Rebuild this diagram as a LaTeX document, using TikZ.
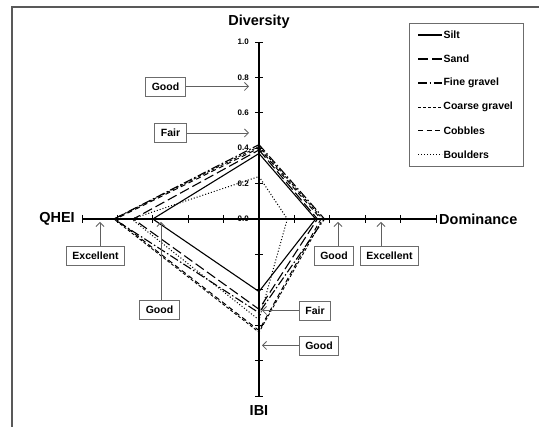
\documentclass[tikz,border=0pt]{standalone}
\usepackage{fontspec}
\setmainfont{Liberation Sans}
\usepackage{tikz}
\usetikzlibrary{arrows.meta}

\begin{document}
\begin{tikzpicture}[x=1pt,y=-1pt,
        axis/.style={line width=1.2pt, black},
        tickmark/.style={line width=0.9pt, black},
        axistitle/.style={font=\bfseries\fontsize{14.5}{16}\selectfont, black, inner sep=0pt},
        ticklbl/.style={font=\bfseries\fontsize{8}{9}\selectfont, black, inner sep=0pt, anchor=east},
        annot/.style={draw=gray!85!black, line width=0.8pt, fill=white, font=\bfseries\fontsize{10.5}{12}\selectfont, minimum height=19pt, inner xsep=6pt, inner ysep=0pt},
        pointer/.style={draw=gray!75!black, line width=0.8pt, -{Straight Barb[length=4pt,width=8pt]}},
        legtxt/.style={font=\bfseries\fontsize{10.5}{12}\selectfont, black, inner sep=1pt, anchor=west},
        silt/.style={line width=1.1pt},
        sand/.style={line width=1.1pt, dash pattern=on 10pt off 4pt},
        finegravel/.style={line width=1.1pt, dash pattern=on 9pt off 2.5pt on 1.5pt off 2.5pt},
        coarsegravel/.style={line width=0.9pt, dash pattern=on 3pt off 2pt},
        cobbles/.style={line width=1pt, dash pattern=on 5pt off 3.5pt},
        boulders/.style={line width=1pt, dash pattern=on 1pt off 2pt}]
        \useasboundingbox (0,0) rectangle (539,427);

        % frame of the figure
        \draw[gray!70!black, line width=1.2pt] (12,427) -- (12,7) -- (539,7);

        % axes
        \coordinate (O) at (259,219);
        \coordinate (dtop) at (259,42);
        \coordinate (ibot) at (259,396);
        \coordinate (qleft) at (82,219);
        \coordinate (dright) at (436,219);
        \draw[axis] (dtop) -- (ibot);
        \draw[axis] (qleft) -- (dright);
        \foreach \k in {1,...,5} {
            \draw[tickmark] (255,{219-35.4*\k}) -- ++(8,0);
            \draw[tickmark] (255,{219+35.4*\k}) -- ++(8,0);
            \draw[tickmark] ({259-35.4*\k},215) -- ++(0,8);
            \draw[tickmark] ({259+35.4*\k},215) -- ++(0,8);
        }
        \foreach \v/\k in {0.0/0, 0.2/1, 0.4/2, 0.6/3, 0.8/4, 1.0/5}
            \node[ticklbl] at (249,{219-35.4*\k}) {\v};

        \node[axistitle] (tdiv) at (259,22) {Diversity};
        \node[axistitle] (tqhei) at (57,219) {QHEI};
        \node[axistitle, anchor=west] (tdom) at (439,219) {Dominance};
        \node[axistitle] (tibi) at (259,411) {IBI};

        % substrate polygons
        \begin{scope}[shift={(259,219)}, x=177pt, y=177pt]
            \draw[silt] (0,0.37) -- (0.32,0) -- (0,-0.41) -- (-0.60,0) -- cycle;
            \draw[sand] (0,0.39) -- (0.33,0) -- (0,-0.51) -- (-0.71,0) -- cycle;
            \draw[finegravel] (0,0.42) -- (0.37,0) -- (0,-0.53) -- (-0.82,0) -- cycle;
            \draw[coarsegravel] (0,0.41) -- (0.36,0) -- (0,-0.64) -- (-0.82,0) -- cycle;
            \draw[cobbles] (0,0.40) -- (0.35,0) -- (0,-0.63) -- (-0.81,0) -- cycle;
            \draw[boulders] (0,0.24) -- (0.16,0) -- (0,-0.57) -- (-0.72,0) -- cycle;
        \end{scope}

        % class boundaries
        \node[annot] (dgood) at (165.5,86.5) {Good};
        \node[annot] (dfair) at (170.5,133) {Fair};
        \node[annot] (qexc) at (95.5,255.5) {Excellent};
        \node[annot] (qgood) at (159.5,310) {Good};
        \node[annot] (mgood) at (334,255.5) {Good};
        \node[annot] (mexc) at (389.5,255.5) {Excellent};
        \node[annot] (ifair) at (315,310.5) {Fair};
        \node[annot] (igood) at (319,345.5) {Good};

        \coordinate (dgoodpt) at (249,86.5);
        \coordinate (dfairpt) at (249,133);
        \coordinate (qexcpt) at (100,222);
        \coordinate (qgoodpt) at (161,222);
        \coordinate (mgoodpt) at (338,222);
        \coordinate (mexcpt) at (381,222);
        \coordinate (ifairpt) at (262,310.5);
        \coordinate (igoodpt) at (262,345.5);

        \draw[pointer] (dgood.east) -- (dgoodpt);
        \draw[pointer] (dfair.east) -- (dfairpt);
        \draw[pointer] (qexc.north -| qexcpt) -- (qexcpt);
        \draw[pointer] (qgood.north -| qgoodpt) -- (qgoodpt);
        \draw[pointer] (mgood.north -| mgoodpt) -- (mgoodpt);
        \draw[pointer] (mexc.north -| mexcpt) -- (mexcpt);
        \draw[pointer] (ifair.west) -- (ifairpt);
        \draw[pointer] (igood.west) -- (igoodpt);

        % legend
        \draw[gray!85!black, line width=0.8pt] (409,23) rectangle (523,166);
        \draw[silt] (418,35) -- (442,35) node[legtxt] (lsilt) {Silt};
        \draw[sand] (418,59) -- (442,59) node[legtxt] (lsand) {Sand};
        \draw[finegravel] (418,83) -- (442,83) node[legtxt] (lfine) {Fine gravel};
        \draw[coarsegravel] (418,107) -- (442,107) node[legtxt] (lcoarse) {Coarse gravel};
        \draw[cobbles] (418,131) -- (442,131) node[legtxt] (lcobb) {Cobbles};
        \draw[boulders] (418,155) -- (442,155) node[legtxt] (lboul) {Boulders};
    \end{tikzpicture}
\end{document}
